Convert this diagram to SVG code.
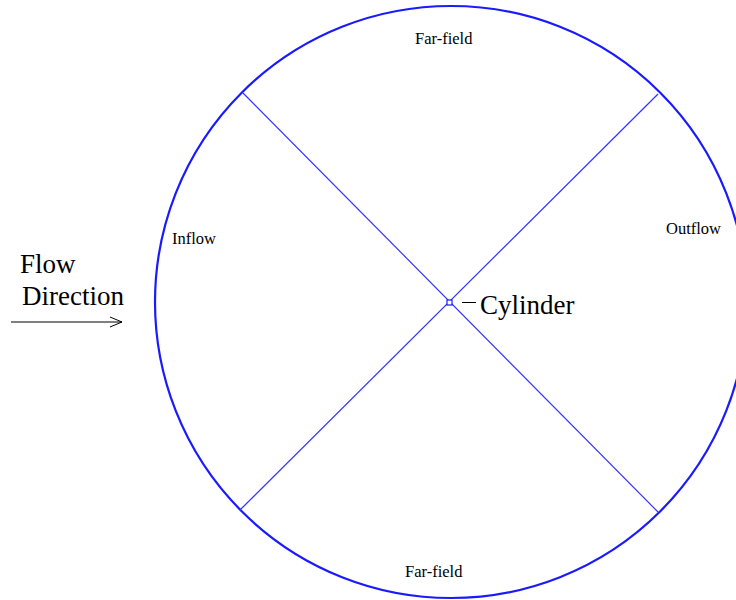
<svg xmlns="http://www.w3.org/2000/svg" width="736" height="600" viewBox="0 0 736 600">
<style>
.bnd{fill:none;stroke:#1a1aff;stroke-width:2.2}
.ln{fill:none;stroke:#3333ff;stroke-width:1.2}
.sm{font-family:"Liberation Serif",serif;font-size:16.5px;fill:#000}
.lg{font-family:"Liberation Serif",serif;font-size:27px;fill:#000}
.ar{fill:none;stroke:#000;stroke-width:1}
</style>
<rect width="736" height="600" fill="#fff"/>
<g id="domain">
<circle class="bnd" cx="451" cy="302" r="296"/>
</g>
<g id="connectors">
<line class="ln" x1="243" y1="93" x2="658" y2="512"/>
<line class="ln" x1="658" y1="94" x2="240" y2="510"/>
</g>
<g id="cylinder">
<rect x="447" y="300" width="5" height="5" fill="#fff" stroke="#1a1aff" stroke-width="1.2"/>
<line class="ar" x1="462" y1="302.5" x2="476" y2="302.5"/>
<text class="lg" x="480" y="314">Cylinder</text>
</g>
<g id="farfield-top"><text class="sm" x="415" y="44">Far-field</text></g>
<g id="farfield-bottom"><text class="sm" x="405" y="577">Far-field</text></g>
<g id="inflow"><text class="sm" x="172" y="244">Inflow</text></g>
<g id="outflow"><text class="sm" x="666" y="234">Outflow</text></g>
<g id="flow-direction">
<text class="lg" x="20" y="273">Flow</text>
<text class="lg" x="22" y="305">Direction</text>
<line class="ar" x1="11" y1="322" x2="122" y2="322"/>
<polyline class="ar" points="110,317 122,322 110,327"/>
</g>
</svg>
